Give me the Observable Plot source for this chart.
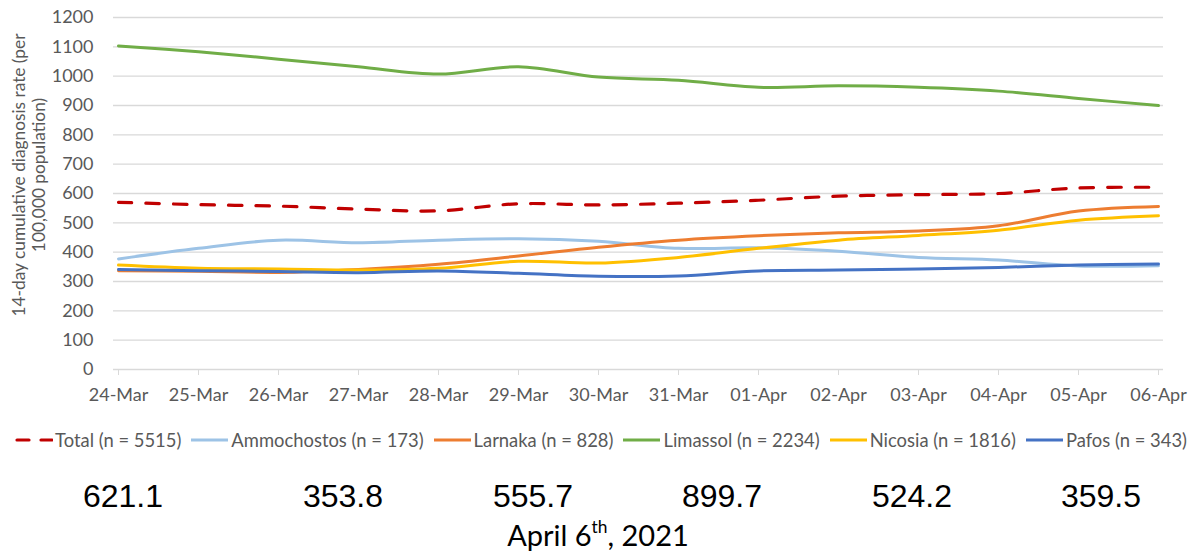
<!DOCTYPE html>
<html>
<head>
<meta charset="utf-8">
<script src="https://cdn.jsdelivr.net/npm/d3@7"></script>
<script src="https://cdn.jsdelivr.net/npm/@observablehq/plot@0.6"></script>
<style>
  html, body { margin: 0; padding: 0; background: #fff; }
  #wrap { position: relative; width: 1202px; height: 556px; overflow: hidden; font-family: Lato, sans-serif; }
  #chart { position: absolute; left: 0; top: 0; }
  #ytitle { position: absolute; left: 29px; top: 175px; width: 360px; transform: translate(-50%, -50%) rotate(-90deg);
            text-align: center; font-size: 17.3px; line-height: 20px; color: #595959; white-space: nowrap; }
  #legend { position: absolute; left: 0; top: 429px; width: 1202px; display: flex; justify-content: center; align-items: center;
            font-size: 18.4px; color: #595959; white-space: nowrap; }
  .item { display: flex; align-items: center; margin: 0 5px; }
  .item svg { margin-right: 2px; }
  .num { position: absolute; top: 480px; font-family: "Liberation Sans", Arial, sans-serif; font-size: 32px; line-height: 32px;
         color: #000; transform: translateX(-50%); white-space: nowrap; }
  #date { position: absolute; left: 598px; top: 520px; transform: translateX(-50%); font-size: 29px; line-height: 29px; color: #000; white-space: nowrap; }
  #date sup { font-size: 0.6em; line-height: 0; vertical-align: 0.75em; }
</style>
</head>
<body>
<div id="wrap">
  <div id="chart"></div>
  <div id="ytitle">14-day cumulative diagnosis rate (per<br>100,000 population)</div>
  <div id="legend"></div>
  <div id="nums"></div>
  <div id="date">April 6<sup>th</sup>, 2021</div>
</div>
<script>
const dates = ["24-Mar","25-Mar","26-Mar","27-Mar","28-Mar","29-Mar","30-Mar","31-Mar","01-Apr","02-Apr","03-Apr","04-Apr","05-Apr","06-Apr"];
const seriesNames = ["Total","Ammochostos","Larnaka","Limassol","Nicosia","Pafos"];
const counts = [5515, 173, 828, 2234, 1816, 343];
const colors = ["#C00000","#9DC3E6","#ED7D31","#70AD47","#FFC000","#4472C4"];
const total       = [570, 562, 557, 547, 541, 565, 561, 567, 577, 591, 596, 600, 619, 621.1];
const ammochostos = [377, 413, 441, 432, 441, 446, 437, 413, 415, 403, 382, 373, 353, 353.8];
const larnaka     = [337, 335, 331, 341, 359, 387, 417, 441, 456, 466, 472, 490, 540, 555.7];
const limassol    = [1103, 1083, 1058, 1032, 1007, 1032, 997, 986, 962, 967, 962, 949, 924, 899.7];
const nicosia     = [356, 345, 343, 339, 345, 369, 363, 382, 413, 441, 457, 475, 509, 524.2];
const pafos       = [341, 337, 334, 330, 336, 328, 318, 319, 336, 339, 343, 348, 356, 359.5];
const yTicks = [0,100,200,300,400,500,600,700,800,900,1000,1100,1200];
const latestLabels = ["621.1","353.8","555.7","899.7","524.2","359.5"];

const valuesBySeries = [total, ammochostos, larnaka, limassol, nicosia, pafos];
const labels = seriesNames.map((s, i) => `${s} (n = ${counts[i]})`);
const rows = [];
valuesBySeries.forEach((vals, i) => vals.forEach((v, j) => rows.push({series: seriesNames[i], date: dates[j], value: v})));

const others = rows.filter(d => d.series !== "Total");
const totals = rows.filter(d => d.series === "Total");

const plot = Plot.plot({
  width: 1202,
  height: 415,
  marginLeft: 113,
  marginRight: 39,
  marginTop: 17,
  marginBottom: 46,
  style: {fontFamily: "Lato, sans-serif", fontSize: "18px", color: "#595959", background: "transparent"},
  x: {type: "point", domain: dates, padding: 0, label: null},
  y: {domain: [0, 1200], label: null},
  color: {domain: seriesNames, range: colors},
  marks: [
    Plot.gridY(yTicks, {stroke: "#d9d9d9", strokeOpacity: 1, strokeWidth: 1.3}),
    Plot.axisY(yTicks, {tickSize: 0, tickPadding: 20, label: null, fill: "#595959", fontSize: 18, tickFormat: d => String(d)}),
    Plot.axisX({tickSize: 6, tickPadding: 13, stroke: "#d9d9d9", strokeOpacity: 1, label: null, fill: "#595959", fontSize: 18}),
    Plot.line(totals, {x: "date", y: "value", z: "series", stroke: "series", strokeWidth: 3.2,
      strokeDasharray: "13.5,14", strokeLinecap: "round", curve: "catmull-rom"}),
    Plot.line(others, {x: "date", y: "value", z: "series", stroke: "series", strokeWidth: 3,
      curve: "catmull-rom"})
  ]
});
document.getElementById("chart").appendChild(plot);

// legend
const legend = document.getElementById("legend");
seriesNames.forEach((s, i) => {
  const item = document.createElement("div");
  item.className = "item";
  const dash = i === 0 ? `stroke-dasharray="12,12" stroke-linecap="round"` : "";
  const x1 = i === 0 ? 2 : 0, x2 = 37;
  item.innerHTML = `<svg width="38" height="6"><line x1="${x1}" y1="3" x2="${x2}" y2="3" stroke="${colors[i]}" stroke-width="3.2" ${dash}/></svg><span>${labels[i]}</span>`;
  legend.appendChild(item);
});

// latest values (April 6th)
const numCenters = [123, 343, 533, 722, 912, 1101];
const nums = document.getElementById("nums");
latestLabels.forEach((t, i) => {
  const d = document.createElement("div");
  d.className = "num";
  d.style.left = numCenters[i] + "px";
  d.textContent = t;
  nums.appendChild(d);
});
</script>
</body>
</html>
